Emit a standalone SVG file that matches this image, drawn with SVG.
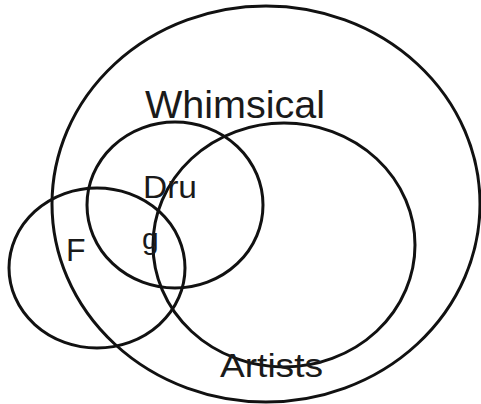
<svg xmlns="http://www.w3.org/2000/svg" width="481" height="404" viewBox="0 0 481 404">
<style>
.set{fill:none;stroke:#111;stroke-width:3}
.lbl{font-family:"Liberation Sans","Open Sans",sans-serif;fill:#1a1a1a}
</style>
<rect width="481" height="404" fill="#fff"/>
<g id="whimsical">
<ellipse class="set" cx="266" cy="204" rx="214" ry="198"/>
<text class="lbl" x="145" y="118" font-size="38" textLength="180" lengthAdjust="spacingAndGlyphs">Whimsical</text>
</g>
<g id="artists">
<ellipse class="set" cx="284" cy="245" rx="131" ry="122"/>
<text class="lbl" x="220" y="377" font-size="33" textLength="103" lengthAdjust="spacingAndGlyphs">Artists</text>
</g>
<g id="dru">
<ellipse class="set" cx="175" cy="205" rx="88" ry="83"/>
<text class="lbl" x="143" y="198" font-size="32" textLength="54" lengthAdjust="spacingAndGlyphs">Dru</text>
</g>
<g id="f">
<ellipse class="set" cx="97" cy="268" rx="88" ry="80"/>
<text class="lbl" x="66" y="261" font-size="32">F</text>
</g>
<g id="g">
<text class="lbl" x="142" y="249" font-size="30">g</text>
</g>
<g id="connectors"/>
</svg>
